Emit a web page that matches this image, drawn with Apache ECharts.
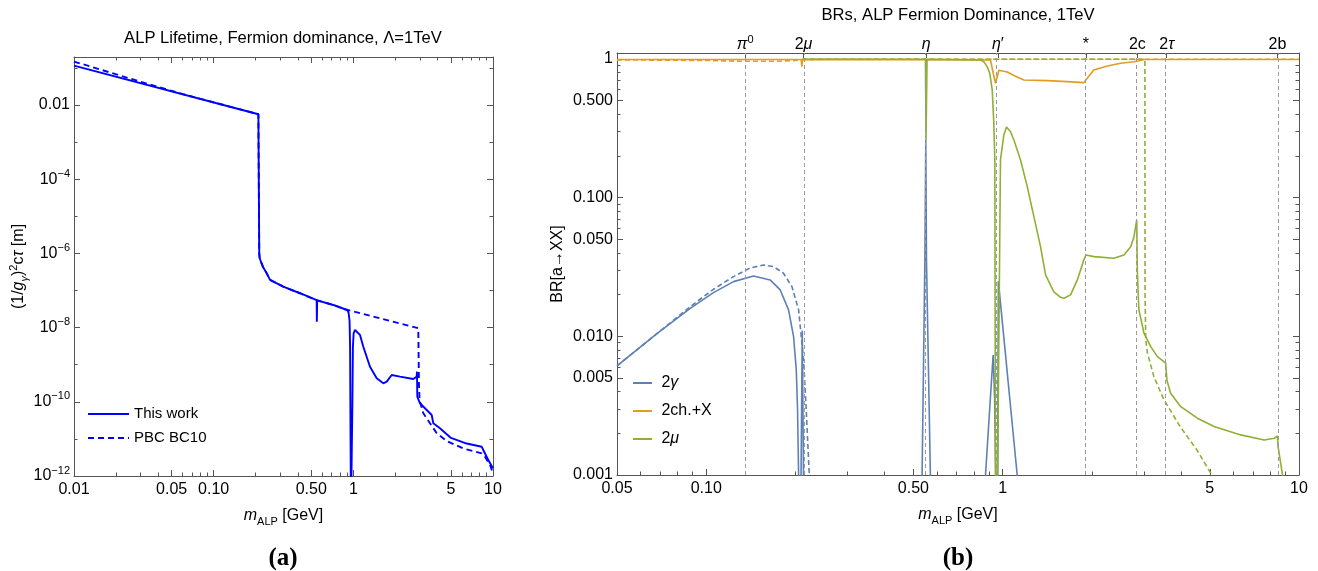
<!DOCTYPE html>
<html>
<head>
<meta charset="utf-8">
<script src="https://cdn.jsdelivr.net/npm/echarts@6.0.0/dist/echarts.min.js"></script>
<style>
html,body{margin:0;padding:0;background:#ffffff;}
#chart{width:1318px;height:571px;}
</style>
</head>
<body>
<div id="chart"></div>
<script>
// ================= DATA =================
// Panel (a): (1/g_gamma)^2 c tau [m] versus m_ALP [GeV]  -> [mass, value]
const lifeThisWork = [
  [0.01,0.1146],[0.209,0.0056],[0.212,1.0e-6],[0.2135,7.5e-7],[0.2183,5.86e-7],[0.2255,4.3e-7],
  [0.2369,3.16e-7],[0.2532,1.92e-7],[0.315,1.27e-7],[0.415,8.4e-8],[0.5465,5.45e-8],[0.548,1.44e-8],
  [0.5495,1.44e-8],[0.551,5.4e-8],[0.7185,4.06e-8],[0.8717,3.11e-8],[0.905,2.95e-8],[0.925,2.5e-8],
  [0.94,1.5e-8],[0.948,3e-9],[0.955,1e-11],[0.962,1e-13],[0.975,1e-13],[0.985,1e-10],[0.993,3e-9],
  [1.005,7e-9],[1.028,8.6e-9],[1.05,8.0e-9],[1.116,6.32e-9],[1.179,3.05e-9],[1.316,8.8e-10],
  [1.47,4.3e-10],[1.639,3.15e-10],[1.734,3.48e-10],[1.882,5.28e-10],[1.933,5.5e-10],[2.158,4.75e-10],
  [2.687,4.12e-10],[2.842,4.75e-10],[2.856,6.47e-10],[2.871,1.37e-10],[3.0,9.1e-11],[3.352,6.0e-11],
  [3.64,4.4e-11],[3.737,2.63e-11],[4.173,1.93e-11],[5.0,1.06e-11],[6.48,7.5e-12],[8.3,6.16e-12],
  [8.52,5.02e-12],[9.25,2.7e-12],[10.0,1.62e-12]
];
const lifePBC = [
  [0.01,0.147],[0.03,0.042],[0.06,0.0195],[0.209,0.0056],[0.212,1.0e-6],[0.2135,7.5e-7],[0.2183,5.86e-7],
  [0.2255,4.3e-7],[0.2369,3.16e-7],[0.2532,1.92e-7],[0.315,1.27e-7],[0.415,8.4e-8],[0.5465,5.45e-8],
  [0.7185,4.06e-8],[0.8717,3.11e-8],[2.918,9.57e-9],[2.95,3e-10],[2.98,1.12e-10],[3.17,4.9e-11],
  [3.539,2.63e-11],[3.954,1.42e-11],[4.662,8.77e-12],[6.13,5.5e-12],[8.3,4.09e-12],[8.76,3.31e-12],
  [9.52,1.98e-12],[10.0,1.18e-12]
];

// Panel (b): BR[a->XX] versus m_ALP [GeV] -> [mass, BR]
const brGamma = [
  [0.05,0.00612],[0.068,0.0104],[0.0883,0.0159],[0.1058,0.02065],[0.1236,0.0248],[0.1444,0.02725],
  [0.1643,0.0255],[0.1777,0.0216],[0.1896,0.0155],[0.1971,0.00995],[0.2013,0.00573],[0.2033,0.00295],
  [0.205,0.001],[0.206,1e-4],[0.2085,1e-4],[0.2089,0.001],[0.2109,0.011],[0.2129,0.001],[0.2135,1e-4],
  [0.53,1e-4],[0.535,0.001],[0.5467,0.0356],[0.5505,0.26],[0.5525,0.26],[0.5535,0.0356],[0.5706,0.001],
  [0.575,1e-4],[0.87,1e-4],[0.8755,0.001],[0.929,0.00734],[0.94,0.0035],[0.948,0.001],[0.952,1e-4],
  [0.958,1e-4],[0.962,0.001],[0.9675,0.025],[1.12,0.001],[1.13,1e-4],[10,1e-4]
];
const brGammaPBC = [
  [0.05,0.00612],[0.068,0.0104],[0.0883,0.01638],[0.1058,0.02184],[0.1236,0.02695],[0.1407,0.0311],
  [0.156,0.0327],[0.1687,0.0318],[0.1823,0.0285],[0.1946,0.02284],[0.205,0.0155],[0.213,0.00676],
  [0.2175,0.002946],[0.2204,0.0016],[0.2227,0.001],[0.225,1e-4]
];
const brCharged = [
  [0.05,0.99],[0.209,0.99],[0.2103,0.88],[0.2112,0.99],[0.91,0.983],[0.9296,0.789],[0.946,0.668],
  [0.9585,0.686],[0.966,0.789],[0.971,0.829],[1.037,0.806],[1.092,0.76],[1.18,0.706],[1.414,0.698],
  [1.653,0.686],[1.88,0.675],[1.93,0.726],[2.03,0.833],[2.256,0.89],[2.5,0.931],[2.775,0.956],
  [2.885,0.972],[3.0,0.99],[10,0.99]
];
const brChargedPBC = [
  [0.05,0.985],[0.1,0.975],[0.13,0.963],[0.17,0.962],[0.2,0.975],[0.211,0.99],[0.25,0.995],[10,0.995]
];
const brMuon = [
  [0.2113,0.995],[0.549,0.995],[0.5515,0.26],[0.5535,0.26],[0.556,0.995],[0.842,0.983],
  [0.864,0.956],[0.887,0.88],[0.905,0.789],[0.9225,0.598],[0.934,0.344],[0.9413,0.187],[0.946,0.001],
  [0.95,1e-4],[0.958,1e-4],[0.962,0.001],[0.9835,0.187],[1.0095,0.283],[1.031,0.3234],[1.0635,0.299],
  [1.0915,0.2606],[1.1495,0.187],[1.211,0.12],[1.275,0.0729],[1.3425,0.0443],[1.396,0.0277],
  [1.489,0.0209],[1.569,0.0191],[1.6095,0.01883],[1.6955,0.0199],[1.787,0.0255],[1.88,0.0356],
  [1.91,0.0386],[2.033,0.03755],[2.375,0.03656],[2.567,0.0386],[2.705,0.0443],[2.775,0.0523],
  [2.835,0.069],[2.848,0.03],[2.87,0.019],[2.884,0.0155],[2.999,0.01053],[3.16,0.00843],[3.33,0.00714],
  [3.55,0.0064],[3.575,0.0062],[3.585,0.0048],[3.69,0.00389],[3.99,0.00311],[4.54,0.002568],
  [5.17,0.002234],[6.36,0.001946],[7.63,0.00179],[8.25,0.00184],[8.46,0.00191],[8.5,0.0016],
  [8.8,0.001],[9.0,1e-4]
];
const brMuonPBC = [
  [0.2113,0.995],[3.02,0.995],[3.025,0.02],[3.04,0.0095],[3.08,0.0076],[3.24,0.0051],
  [3.5,0.0035],[3.99,0.0022],[4.54,0.0015],[5.08,0.001],[5.4,1e-4]
];

// thresholds (top axis of panel b)
const thresholdMass = [0.1353, 0.213, 0.5527, 0.9635, 1.91, 2.849, 3.577, 8.46];
const thresholdLabels = ['{i|π}{s|0}', '{t|2}{i|μ}', '{i|η}', '{i|η}{t|′}', '{t|*}', '{t|2c}', '{t|2}{i|τ}', '{t|2b}'];

// ticks
const lifeXMajor = [0.01, 0.05, 0.1, 0.5, 1, 5, 10];
const lifeXLabels = ['0.01', '0.05', '0.10', '0.50', '1', '5', '10'];
const lifeXMinor = [0.02,0.03,0.04,0.06,0.07,0.08,0.09,0.2,0.3,0.4,0.6,0.7,0.8,0.9,2,3,4,6,7,8,9];
const lifeYMajor = [1e-12, 1e-10, 1e-8, 1e-6, 1e-4, 1e-2];
const lifeYLabels = ['{b|10}{s|−12}', '{b|10}{s|−10}', '{b|10}{s|−8}', '{b|10}{s|−6}', '{b|10}{s|−4}', '{b|0.01}'];
const lifeYMinor = [1e-11, 1e-9, 1e-7, 1e-5, 1e-3, 1e-1];
const brXMajor = [0.05, 0.1, 0.5, 1, 5, 10];
const brXLabels = ['0.05', '0.10', '0.50', '1', '5', '10'];
const brXMinor = [0.06,0.07,0.08,0.09,0.2,0.3,0.4,0.6,0.7,0.8,0.9,2,3,4,6,7,8,9];
const brYMajor = [0.001, 0.005, 0.01, 0.05, 0.1, 0.5, 1];
const brYLabels = ['0.001', '0.005', '0.010', '0.050', '0.100', '0.500', '1'];
const brYMinor = [0.002,0.003,0.004,0.006,0.007,0.008,0.009,0.02,0.03,0.04,0.06,0.07,0.08,0.09,0.2,0.3,0.4,0.6,0.7,0.8,0.9];

// ================= CHART =================
const L10 = Math.log10;
const FONT = "'Liberation Sans', Arial, Helvetica, sans-serif";
const SERIF = "'Liberation Serif', 'Times New Roman', serif";
const FRAME = '#555555';
const toLog = arr => arr.map(p => [L10(p[0]), L10(p[1])]);
const labeler = (vals, labels) => {
  const lv = vals.map(L10);
  return v => { const k = lv.findIndex(x => Math.abs(x - v) < 1e-6); return k < 0 ? '' : labels[k]; };
};
const RICH = {
  t: {fontSize: 16, fontFamily: FONT, color: '#000', lineHeight: 22, verticalAlign: 'middle'},
  b: {fontSize: 16, fontFamily: FONT, color: '#000', lineHeight: 22, verticalAlign: 'middle'},
  i: {fontSize: 16, fontFamily: FONT, fontStyle: 'italic', color: '#000', lineHeight: 22, verticalAlign: 'middle'},
  s: {fontSize: 11, fontFamily: FONT, color: '#000', lineHeight: 10, verticalAlign: 'top'},
  sup: {fontSize: 11, fontFamily: FONT, color: '#000', lineHeight: 10, verticalAlign: 'top'},
  sub: {fontSize: 11, fontFamily: FONT, color: '#000', lineHeight: 14, verticalAlign: 'bottom'},
  subi: {fontSize: 11, fontFamily: FONT, fontStyle: 'italic', color: '#000', lineHeight: 14, verticalAlign: 'bottom'}
};

const LA = {xmin: -2, xmax: 1, ymin: -12, ymax: -0.71};
const LB = {xmin: L10(0.05), xmax: 1, ymin: -3, ymax: 0.043};

function tickAxis(grid, pos, min, max, ticks, len, frame, extra) {
  return Object.assign({
    type: 'value', gridIndex: grid, position: pos, min: min, max: max,
    splitLine: {show: false},
    axisLine: {show: frame, onZero: false, lineStyle: {color: FRAME, width: 1}},
    axisTick: {show: ticks.length > 0, inside: true, length: len, customValues: ticks.map(L10), lineStyle: {color: FRAME, width: 1}},
    axisLabel: {show: false}
  }, extra || {});
}
function labels(vals, texts, margin) {
  return {show: true, customValues: vals.map(L10), formatter: labeler(vals, texts), margin: margin,
          color: '#000', fontSize: 16, fontFamily: FONT, rich: RICH};
}
const nameStyle = {fontSize: 16, color: '#000', fontFamily: FONT, rich: RICH};
const xName = '{i|m}{sub|ALP}{t| [GeV]}';

const xAxis = [
  tickAxis(0, 'bottom', LA.xmin, LA.xmax, lifeXMajor, 6, true, {
    axisLabel: labels(lifeXMajor, lifeXLabels, 6), name: xName, nameLocation: 'middle', nameGap: 29, nameTextStyle: nameStyle}),
  tickAxis(0, 'bottom', LA.xmin, LA.xmax, lifeXMinor, 3.5, false),
  tickAxis(0, 'top', LA.xmin, LA.xmax, lifeXMajor, 6, true),
  tickAxis(0, 'top', LA.xmin, LA.xmax, lifeXMinor, 3.5, false),
  tickAxis(1, 'bottom', LB.xmin, LB.xmax, brXMajor, 6, true, {
    axisLabel: labels(brXMajor, brXLabels, 6), name: xName, nameLocation: 'middle', nameGap: 29, nameTextStyle: nameStyle}),
  tickAxis(1, 'bottom', LB.xmin, LB.xmax, brXMinor, 3.5, false),
  tickAxis(1, 'top', LB.xmin, LB.xmax, thresholdMass, 5, true, {
    axisLabel: labels(thresholdMass, thresholdLabels, -3)})
];
const yAxis = [
  tickAxis(0, 'left', LA.ymin, LA.ymax, lifeYMajor, 6, true, {
    axisLabel: labels(lifeYMajor, lifeYLabels, 4),
    name: '{t|(1/}{i|g}{subi|γ}{t|)}{sup|2}{t|c}{i|τ}{t| [m]}', nameLocation: 'middle', nameGap: 44, nameRotate: 90,
    nameMoveOverlap: false, nameTextStyle: nameStyle}),
  tickAxis(0, 'left', LA.ymin, LA.ymax, lifeYMinor, 3.5, false),
  tickAxis(0, 'right', LA.ymin, LA.ymax, lifeYMajor, 6, true),
  tickAxis(0, 'right', LA.ymin, LA.ymax, lifeYMinor, 3.5, false),
  tickAxis(1, 'left', LB.ymin, LB.ymax, brYMajor, 6, true, {
    axisLabel: labels(brYMajor, brYLabels, 4),
    name: '{t|BR[a→XX]}', nameLocation: 'middle', nameGap: 48, nameRotate: 90,
    nameMoveOverlap: false, nameTextStyle: nameStyle}),
  tickAxis(1, 'left', LB.ymin, LB.ymax, brYMinor, 3.5, false),
  tickAxis(1, 'right', LB.ymin, LB.ymax, brYMajor, 6, true),
  tickAxis(1, 'right', LB.ymin, LB.ymax, brYMinor, 3.5, false)
];

const BLUE = '#0000ff', C1 = '#5e81b5', C2 = '#e19c24', C3 = '#8fb032';
function line(name, data, xi, yi, color, width, dash, z) {
  return {
    name: name, type: 'line', xAxisIndex: xi, yAxisIndex: yi, data: toLog(data),
    showSymbol: false, symbol: 'none', clip: true, z: z || 2, silent: true,
    lineStyle: {color: color, width: width, type: dash || 'solid'}, itemStyle: {color: color}
  };
}

const series = [
  line('PBC BC10', lifePBC, 0, 0, BLUE, 1.9, [6, 4]),
  line('This work', lifeThisWork, 0, 0, BLUE, 1.9),
  line('2γ', brGamma, 4, 4, C1, 1.6),
  line('2γ PBC', brGammaPBC, 4, 4, C1, 1.6, [5, 3]),
  line('2ch.+X', brCharged, 4, 4, C2, 1.6),
  line('2ch.+X PBC', brChargedPBC, 4, 4, C2, 1.6, [5, 3]),
  line('2μ', brMuon, 4, 4, C3, 1.6),
  line('2μ PBC', brMuonPBC, 4, 4, C3, 1.6, [5, 3]),
  {
    name: 'thresholds', type: 'line', xAxisIndex: 4, yAxisIndex: 4, data: [], z: 5, silent: true,
    markLine: {silent: true, symbol: ['none', 'none'], label: {show: false}, animation: false,
      lineStyle: {color: '#9a9a9a', type: [4, 3], width: 1},
      data: thresholdMass.map(m => ({xAxis: L10(m)}))}
  }
];

const legendNames = {'2γ': '{t| 2}{i|γ}', '2ch.+X': '{t| 2ch.+X}', '2μ': '{t| 2}{i|μ}'};
const hiddenSymbol = {color: 'rgba(0,0,0,0)', borderColor: 'rgba(0,0,0,0)', borderWidth: 0, opacity: 0};

const option = {
  animation: false,
  backgroundColor: '#ffffff',
  textStyle: {fontFamily: FONT},
  title: [
    {text: 'ALP Lifetime, Fermion dominance, Λ=1TeV', left: 283, top: 30, textAlign: 'center', padding: 0,
     textStyle: {fontSize: 16.6, fontWeight: 'normal', color: '#000', fontFamily: FONT}},
    {text: 'BRs, ALP Fermion Dominance, 1TeV', left: 958, top: 7, textAlign: 'center', padding: 0,
     textStyle: {fontSize: 16.6, fontWeight: 'normal', color: '#000', fontFamily: FONT}},
    {text: '(a)', left: 283, top: 546, textAlign: 'center', padding: 0,
     textStyle: {fontSize: 25, fontWeight: 'bold', color: '#000', fontFamily: SERIF}},
    {text: '(b)', left: 958, top: 546, textAlign: 'center', padding: 0,
     textStyle: {fontSize: 25, fontWeight: 'bold', color: '#000', fontFamily: SERIF}}
  ],
  legend: [
    {data: ['This work', 'PBC BC10'], orient: 'vertical', left: 87, top: 405, padding: 0,
     itemWidth: 41, itemHeight: 14, itemGap: 6, selectedMode: false, itemStyle: hiddenSymbol,
     textStyle: {fontSize: 15, lineHeight: 18, color: '#000', fontFamily: FONT}},
    {data: ['2γ', '2ch.+X', '2μ'], orient: 'vertical', left: 632, top: 375, padding: 0,
     itemWidth: 19, itemHeight: 14, itemGap: 12, selectedMode: false, itemStyle: hiddenSymbol,
     formatter: n => legendNames[n],
     textStyle: {fontSize: 16, color: '#000', fontFamily: FONT, rich: RICH}}
  ],
  grid: [
    {left: 74, top: 57, width: 419, height: 419, containLabel: false, outerBoundsMode: 'none'},
    {left: 617, top: 53, width: 682, height: 422, containLabel: false, outerBoundsMode: 'none'}
  ],
  xAxis: xAxis,
  yAxis: yAxis,
  series: series
};

const chart = echarts.init(document.getElementById('chart'), null, {renderer: 'canvas'});
chart.setOption(option);
</script>
</body>
</html>
